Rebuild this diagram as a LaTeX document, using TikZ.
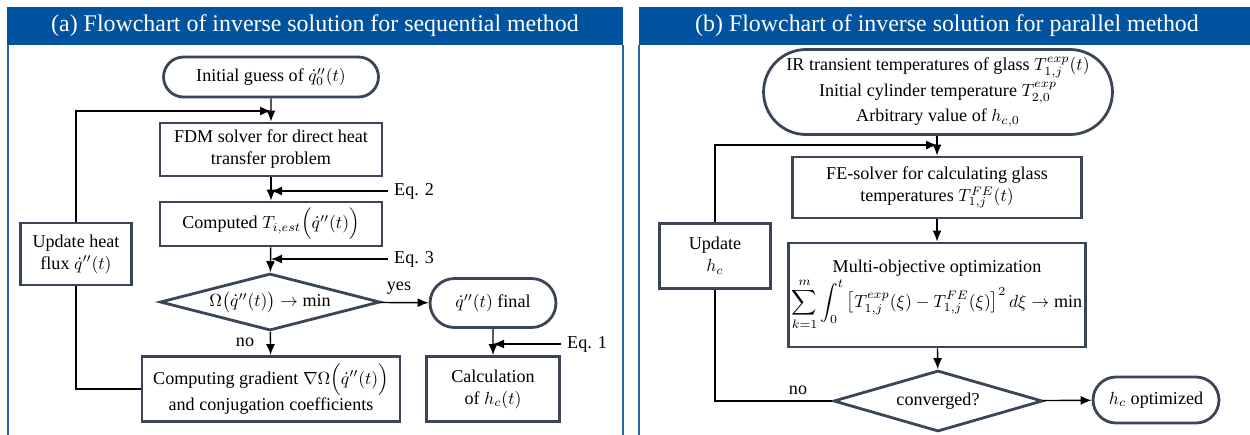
\documentclass[tikz,border=0pt]{standalone}
\usepackage{amsmath}
\usepackage{fontspec}
\setmainfont{Liberation Serif}
\usepackage{tikz}
\usetikzlibrary{arrows.meta,shapes.geometric,shapes.misc}
\definecolor{headblue}{RGB}{0,84,159}
\definecolor{boxgray}{RGB}{58,70,88}
\definecolor{frameblue}{RGB}{40,100,175}

\begin{document}
\begin{tikzpicture}[
  x=0.02cm, y=-0.02cm,
  every node/.style={font=\fontsize{10.3}{12.5}\selectfont, text centered},
  header/.style={fill=headblue, text=white, inner sep=0pt, minimum width=12.32cm, minimum height=0.76cm, font=\fontsize{13.6}{16}\selectfont},
  block/.style={rectangle, draw=boxgray, line width=1.6pt, align=center, inner sep=2pt},
  term/.style={rounded rectangle, draw=boxgray, line width=1.6pt, align=center, inner sep=2pt},
  decision/.style={diamond, draw=boxgray, line width=1.6pt, aspect=3.8, inner sep=0pt},
  arrow/.style={-{Latex[length=2.2mm,width=1.8mm]}, line width=0.8pt},
  link/.style={line width=0.8pt},
  frame/.style={draw=frameblue, line width=1.2pt}
]
\useasboundingbox (0,0) rectangle (1250,434);
\clip (0,0) rectangle (1250,434);

% Panel frames and headers
\draw[frame] (8,45) -- (8,440);
\draw[frame] (623,45) -- (623,440);
\draw[frame] (639,45) -- (639,440);
\node[header] (headA) at (315,26) {(a) Flowchart of inverse solution for sequential method};
\node[header] (headB) at (947,26) {(b) Flowchart of inverse solution for parallel method};

% Panel (a): sequential method
\node[term, minimum width=4.44cm, minimum height=0.8cm] (init) at (271,77) {Initial guess of $\dot{q}''_0(t)$};
\node[block, minimum width=4.44cm, minimum height=1.06cm] (fdm) at (271,149.5) {FDM solver for direct heat\\ transfer problem};
\node[block, minimum width=4.44cm, minimum height=0.88cm] (comp) at (271,224) {Computed $T_{i,est}\Bigl(\dot{q}''(t)\Bigr)$};
\node[block, minimum width=2.22cm, minimum height=1.24cm] (upd) at (76,254) {Update heat\\ flux $\dot{q}''(t)$};
\node[decision, minimum width=4.4cm, minimum height=1.14cm] (omega) at (270,302) {$\Omega\bigl(\dot{q}''(t)\bigr)\rightarrow$ min};
\node[term, minimum width=2.66cm, minimum height=0.98cm] (final) at (493,303) {$\dot{q}''(t)$ final};
\node[block, minimum width=5.16cm, minimum height=1.3cm] (grad) at (271,389) {Computing gradient $\nabla\Omega\Bigl(\dot{q}''(t)\Bigr)$\\ and conjugation coefficients};
\node[block, minimum width=2.66cm, minimum height=1.3cm] (calc) at (493,389) {Calculation\\ of $h_c(t)$};

\node[anchor=west] (eqtwo) at (388,191) {Eq. 2};
\node[anchor=west] (eqthree) at (388,259) {Eq. 3};
\node[anchor=west] (eqone) at (561,344) {Eq. 1};
\node (yesA) at (399,288) {yes};
\node (noA) at (245,342) {no};
\coordinate (joinA) at (271,111);

\draw[arrow] (init) -- (fdm);
\draw[arrow] (fdm) -- (comp);
\draw[arrow] (comp) -- (omega);
\draw[arrow] (omega) -- (grad);
\draw[arrow] (omega) -- (final);
\draw[arrow] (final) -- (calc);
\draw[arrow] (eqtwo.west) -- (eqtwo.west -| fdm.south);
\draw[arrow] (eqthree.west) -- (eqthree.west -| comp.south);
\draw[arrow] (eqone.west) -- (eqone.west -| final.south);
\draw[link] (grad.west) -| (upd.south);
\draw[arrow] (upd.north) |- (joinA);

% Panel (b): parallel method
\node[term, minimum width=7.12cm, minimum height=1.7cm] (input) at (938,92) {IR transient temperatures of glass $T_{1,j}^{exp}(t)$\\[2pt] Initial cylinder temperature $T_{2,0}^{exp}$\\[2pt] Arbitrary value of $h_{c,0}$};
\node[block, minimum width=5.78cm, minimum height=1.22cm] (fe) at (937,187.5) {FE-solver for calculating glass\\ temperatures $T_{1,j}^{FE}(t)$};
\node[block, minimum width=5.78cm, minimum height=2.08cm] (multi) at (937,295) {Multi-objective optimization\\ $\displaystyle\sum_{k=1}^{m}\int_{0}^{t}\left[T_{1,j}^{exp}(\xi)-T_{1,j}^{FE}(\xi)\right]^2 d\xi\rightarrow\min$};
\node[decision, minimum width=4.18cm, minimum height=1.22cm] (conv) at (938,401) {converged?};
\node[block, minimum width=2.22cm, minimum height=1.3cm] (updB) at (715,256) {Update\\ $h_c$};
\node[term, minimum width=2.66cm, minimum height=0.92cm] (opt) at (1156,400) {$h_c$ optimized};
\node (noB) at (798,390) {no};
\coordinate (joinB) at (937,145);

\draw[arrow] (input.south -| fe.north) -- (fe);
\draw[arrow] (fe) -- (multi);
\draw[arrow] (multi) -- (conv);
\draw[arrow] (conv) -- (opt);
\draw[link] (conv.west) -| (updB.south);
\draw[arrow] (updB.north) |- (joinB);

\end{tikzpicture}
\end{document}
